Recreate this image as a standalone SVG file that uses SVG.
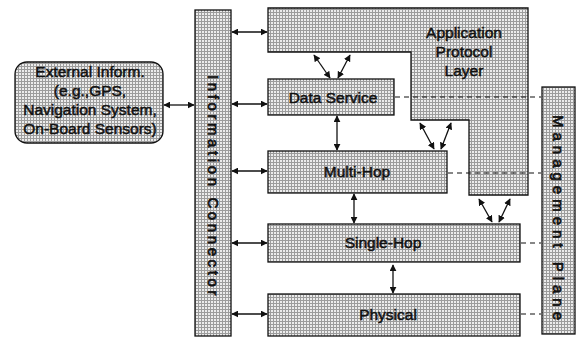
<svg xmlns="http://www.w3.org/2000/svg" width="577" height="340" viewBox="0 0 577 340">
<style>
.box{fill:url(#dots);stroke:#111;stroke-width:1.3}
.t{font-family:"Liberation Sans",Arial,sans-serif;font-size:15.5px;fill:#111;text-anchor:middle;stroke:#111;stroke-width:0.5}
.v{font-family:"Liberation Sans",Arial,sans-serif;font-size:15px;fill:#111;text-anchor:middle;stroke:#111;stroke-width:0.7}
.a{stroke:#111;stroke-width:1.3;fill:none;marker-start:url(#ah);marker-end:url(#ah)}
.d{stroke:#111;stroke-width:1.1;fill:none;stroke-dasharray:5,4}
</style>
<defs>
<pattern id="dots" width="3" height="3" patternUnits="userSpaceOnUse">
<rect width="3" height="3" fill="#9c9c9c"/>
<rect x="1" y="1" width="2" height="2" fill="#ececec"/>
</pattern>
<marker id="ah" viewBox="0 0 10 10" refX="9" refY="5" markerWidth="7" markerHeight="7" markerUnits="userSpaceOnUse" orient="auto-start-reverse">
<path d="M0,0 L10,5 L0,10 Z" fill="#111"/>
</marker>
</defs>
<rect width="577" height="340" fill="#fff"/>

<g id="external">
<rect class="box" x="15" y="62" width="148" height="81" rx="12"/>
<text class="t" x="90" y="77">External Inform.</text>
<text class="t" x="90" y="96">(e.g.,GPS,</text>
<text class="t" x="90" y="115">Navigation System,</text>
<text class="t" x="90" y="134">On-Board Sensors)</text>
</g>

<g id="info-connector">
<rect class="box" x="195" y="10" width="36" height="326"/>
<text class="v" transform="translate(208,187) rotate(90)" letter-spacing="3.6">Information Connector</text>
</g>

<g id="app-layer">
<path class="box" d="M268,8 L528,8 L528,195 L469,195 L469,120 L411,120 L411,52 L268,52 Z"/>
<text class="t" x="464" y="38">Application</text>
<text class="t" x="464" y="57">Protocol</text>
<text class="t" x="464" y="76">Layer</text>
</g>

<g id="data-service">
<rect class="box" x="268" y="79" width="126" height="36"/>
<text class="t" x="333" y="103">Data Service</text>
</g>

<g id="multi-hop">
<rect class="box" x="268" y="151" width="179" height="42"/>
<text class="t" x="357" y="177">Multi-Hop</text>
</g>

<g id="single-hop">
<rect class="box" x="268" y="224" width="252" height="38"/>
<text class="t" x="383" y="248">Single-Hop</text>
</g>

<g id="physical">
<rect class="box" x="268" y="294" width="252" height="42"/>
<text class="t" x="388" y="320">Physical</text>
</g>

<g id="management-plane">
<rect class="box" x="542" y="87" width="33" height="247"/>
<text class="v" transform="translate(553,220) rotate(90)" letter-spacing="5">Management Plane</text>
</g>

<g id="connectors">
<line class="a" x1="164" y1="105" x2="194" y2="105"/>
<line class="a" x1="232" y1="32" x2="267" y2="32"/>
<line class="a" x1="232" y1="104" x2="267" y2="104"/>
<line class="a" x1="232" y1="171" x2="267" y2="171"/>
<line class="a" x1="232" y1="243" x2="267" y2="243"/>
<line class="a" x1="232" y1="314" x2="267" y2="314"/>
<line class="a" x1="314" y1="55" x2="330" y2="78"/>
<line class="a" x1="350" y1="55" x2="338" y2="78"/>
<line class="a" x1="337" y1="116" x2="337" y2="150"/>
<line class="a" x1="420" y1="123" x2="434" y2="149"/>
<line class="a" x1="451" y1="123" x2="441" y2="149"/>
<line class="a" x1="354" y1="194" x2="354" y2="223"/>
<line class="a" x1="479" y1="199" x2="492" y2="222"/>
<line class="a" x1="510" y1="199" x2="499" y2="222"/>
<line class="a" x1="393" y1="265" x2="393" y2="293"/>
<line class="d" x1="395" y1="97" x2="541" y2="97"/>
<line class="d" x1="448" y1="173" x2="541" y2="173"/>
<line class="d" x1="521" y1="243" x2="541" y2="243"/>
<line class="d" x1="521" y1="314" x2="541" y2="314"/>
</g>
</svg>
